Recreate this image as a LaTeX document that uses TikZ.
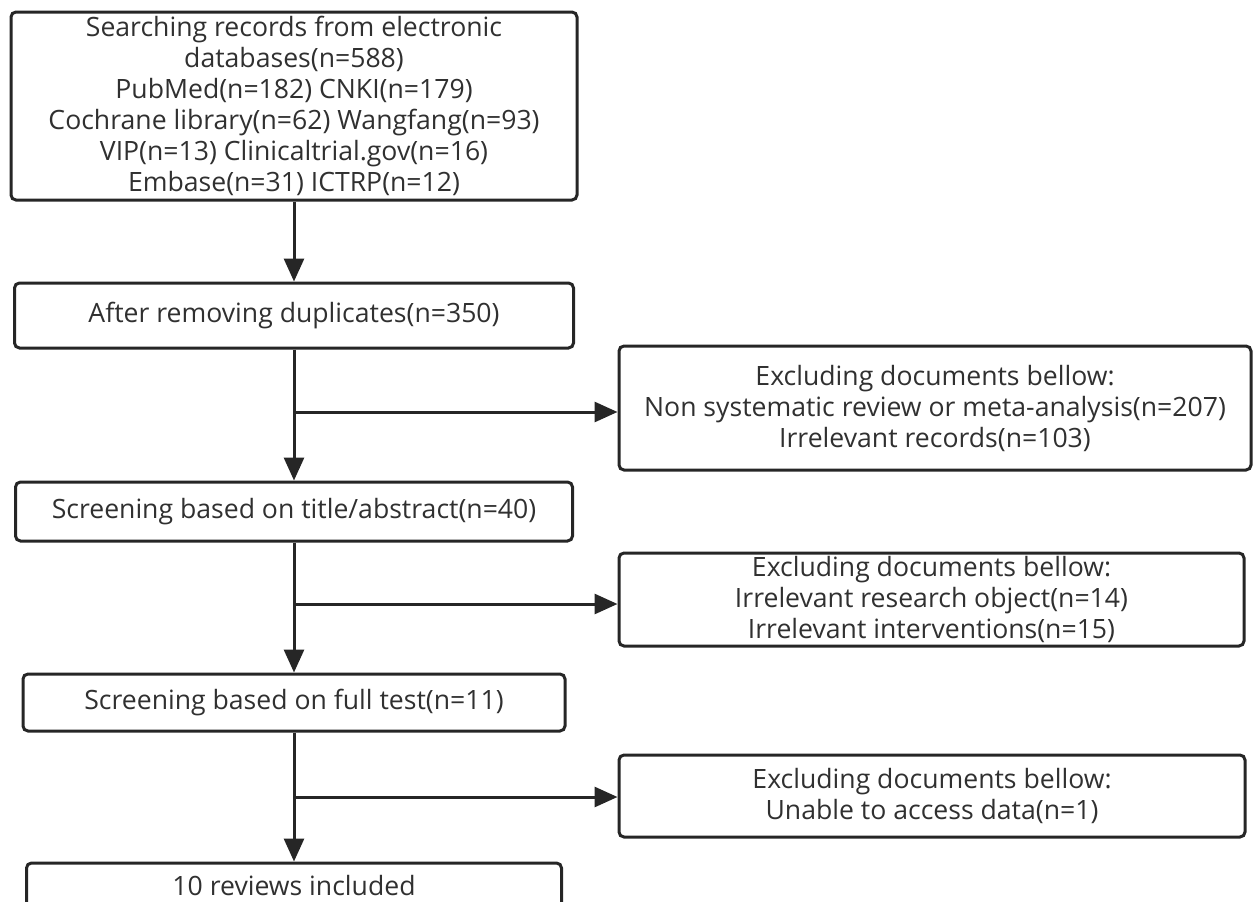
\documentclass[tikz,border=0pt]{standalone}
\usepackage{fontspec}
\setmainfont{Open Sans}
\usetikzlibrary{arrows.meta}

\definecolor{edge}{HTML}{262626}
\definecolor{ink}{HTML}{303030}

\begin{document}
\begin{tikzpicture}[x=1pt, y=-1pt,
	box/.style={draw=edge, line width=3pt, rounded corners=5pt, inner sep=0pt,
		align=center, text=ink, font=\fontsize{26.6}{31}\selectfont},
	flow/.style={draw=edge, line width=3pt, -{Triangle[length=23pt, width=20pt]}}]

\def\width{1253}
\def\height{902}
\def\cx{294}

\path [use as bounding box] (0,0) rectangle (\width,\height);
\clip (0,0) rectangle (\width,\height);

% MAIN COLUMN
\node [box, minimum width=566, minimum height=188] (search) at (\cx,106) {Searching records from electronic\\databases(n=588)\\PubMed(n=182) CNKI(n=179)\\Cochrane library(n=62) Wangfang(n=93)\\VIP(n=13) Clinicaltrial.gov(n=16)\\Embase(n=31) ICTRP(n=12)};
\node [box, minimum width=559, minimum height=65] (dup) at (\cx,315.5) {After removing duplicates(n=350)};
\node [box, minimum width=557, minimum height=59] (title) at (\cx,511.5) {Screening based on title/abstract(n=40)};
\node [box, minimum width=542, minimum height=57] (full) at (\cx,702.5) {Screening based on full test(n=11)};
\node [box, minimum width=535, minimum height=46] (incl) at (\cx,886) {10 reviews included};

% EXCLUSIONS
\node [box, minimum width=632, minimum height=124] (excla) at (935,408) {Excluding documents bellow:\\Non systematic review or meta-analysis(n=207)\\Irrelevant records(n=103)};
\node [box, minimum width=625, minimum height=93] (exclb) at (931.5,599.5) {Excluding documents bellow:\\Irrelevant research object(n=14)\\Irrelevant interventions(n=15)};
\node [box, minimum width=626, minimum height=82] (exclc) at (932,796) {Excluding documents bellow:\\Unable to access data(n=1)};

% ARROWS
\draw [flow] (search) -- (dup);
\draw [flow] (dup) -- (title);
\draw [flow] (title) -- (full);
\draw [flow] (full) -- (incl);

\coordinate (ba) at (\cx,412);
\coordinate (bb) at (\cx,604);
\coordinate (bc) at (\cx,797);
\draw [flow] (ba) -- (ba -| excla.west);
\draw [flow] (bb) -- (bb -| exclb.west);
\draw [flow] (bc) -- (bc -| exclc.west);

\end{tikzpicture}
\end{document}
